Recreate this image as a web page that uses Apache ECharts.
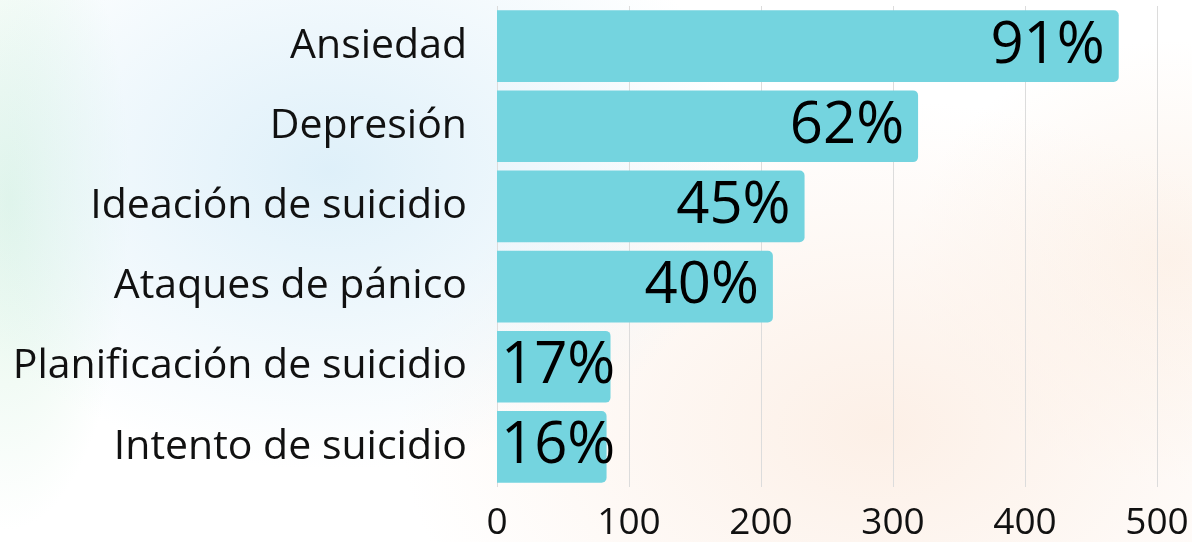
<!DOCTYPE html>
<html>
<head>
<meta charset="utf-8">
<script src="https://cdn.jsdelivr.net/npm/echarts@6/dist/echarts.min.js"></script>
<style>
html,body{margin:0;padding:0;width:1192px;height:542px;overflow:hidden;}
#bg{position:absolute;left:0;top:0;width:1192px;height:542px;
background:
 radial-gradient(ellipse 420px 300px at 330px 170px, rgba(214,236,248,0.8), rgba(214,236,248,0) 100%),
 radial-gradient(ellipse 120px 330px at 10px 200px, rgba(222,245,230,0.9), rgba(222,245,230,0) 100%),
 radial-gradient(ellipse 480px 330px at 880px 430px, rgba(252,238,228,0.9), rgba(252,238,228,0) 100%),
 radial-gradient(ellipse 260px 220px at 1170px 260px, rgba(252,240,230,0.8), rgba(252,240,230,0) 100%),
 #ffffff;}
#main{position:absolute;left:0;top:0;width:1192px;height:542px;}
</style>
</head>
<body>
<div id="bg"></div>
<div id="main"></div>
<script>
const categories = ["Ansiedad","Depresión","Ideación de suicidio","Ataques de pánico","Planificación de suicidio","Intento de suicidio"];
const counts = [471, 319, 233, 209, 86, 83];
const percentLabels = ["91%","62%","45%","40%","17%","16%"];
const xTicks = [0, 100, 200, 300, 400, 500];

const FONT = "'Open Sans', 'Noto Sans', sans-serif";
const shortBarLimit = 120; // bars shorter than this get their label at the start
const seriesData = counts.map(v => v < shortBarLimit
  ? {value: v, label: {position: 'insideLeft', distance: 4}}
  : {value: v});

const chart = echarts.init(document.getElementById('main'), null, {renderer:'canvas'});
chart.setOption({
  backgroundColor: 'transparent',
  animation: false,
  grid: {left: 497, right: 35, top: 6, bottom: 54, containLabel: false},
  xAxis: {
    type: 'value', min: xTicks[0], max: xTicks[xTicks.length-1], interval: 100,
    axisLine: {show:false}, axisTick: {show:false},
    splitLine: {show:true, lineStyle:{color:'#dcdcdc', width:1}},
    axisLabel: {fontFamily: FONT, fontSize: 37, color:'#111', margin: 18}
  },
  yAxis: {
    type: 'category', data: categories, inverse: true,
    axisLine: {show:false}, axisTick: {show:false},
    axisLabel: {fontFamily: FONT, fontSize: 41, color:'#111', margin: 30}
  },
  series: [{
    type: 'bar',
    data: seriesData,
    barCategoryGap: '10.5%',
    itemStyle: {color:'#74D4DF', borderRadius:[0,5,5,0]},
    label: {
      show: true, position: 'insideRight', distance: 14,
      fontFamily: FONT, fontSize: 58, color:'#000',
      formatter: p => percentLabels[p.dataIndex]
    }
  }]
});
</script>
</body>
</html>
